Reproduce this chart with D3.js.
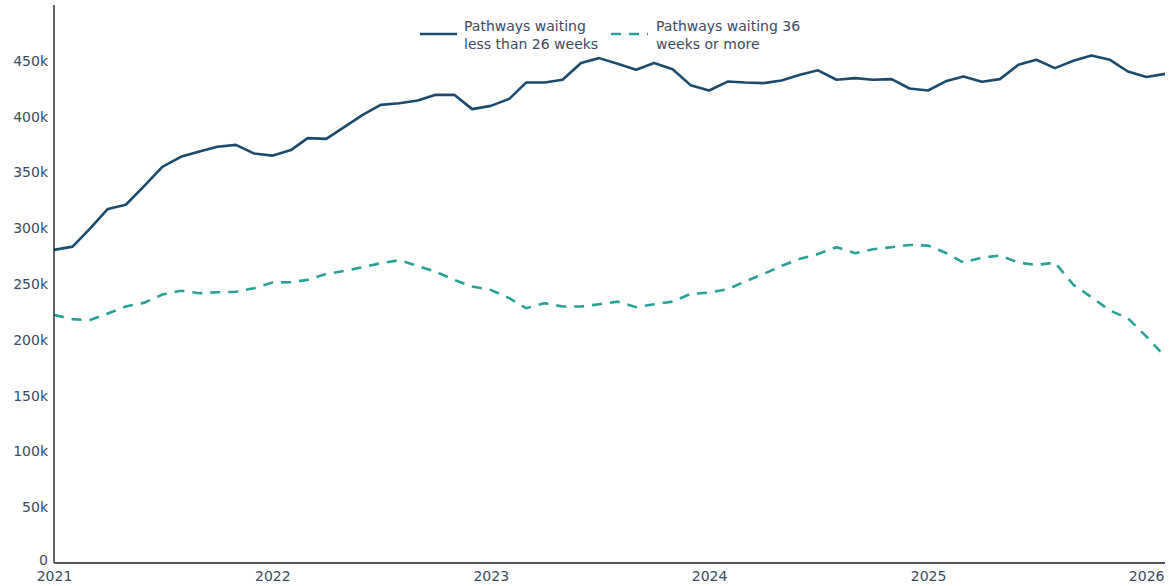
<!DOCTYPE html>
<html><head><meta charset="utf-8">
<script src="https://cdn.jsdelivr.net/npm/d3@7"></script>
<style>body{margin:0;background:#fff;}svg{display:block;font-family:"DejaVu Sans",Verdana,sans-serif;}</style>
</head><body>
<svg id="c" width="1169" height="586"></svg>
<script>
const startMonth = "2021-01";
const under26 = [280.6,283.5,299,317.3,321,338,355,364,368.7,373,374.7,367,365,370,380.7,380,390.5,401.6,410.5,412,414.4,419.5,419.5,406.7,409.6,415.9,430.5,430.5,433,448,452.4,447.3,442,448,442.5,428.2,423.4,431.4,430.5,430,432.3,437.4,441.5,433,434.5,433,433.6,425.2,423.4,432,436,431.2,433.6,446.4,450.9,443.4,450,454.8,450.9,440.4,435.4,438.3];
const over36 = [222.3,218.5,217.5,223.5,229.8,233.3,240.5,244,241.7,242.6,243,246.2,251.3,251.6,253.7,259,261.7,265,268.6,271.3,266.2,261,253.7,247.7,244.7,237.3,228.3,232.8,229.8,229.8,231.9,234.2,229.2,231.9,234.2,241.1,242.3,245.3,252.2,259,266.2,272.6,276.8,283,277.6,281.2,283,285,284.4,277.6,269.2,273.7,275.5,269.2,267.1,269.2,249.2,238.2,226.2,219.3,202.9,185];
const yTicks = [0,50,100,150,200,250,300,350,400,450];
const xTickYears = [2021,2022,2023,2024,2025,2026];
const seriesNames = [["Pathways waiting","less than 26 weeks"],["Pathways waiting 36","weeks or more"]];
const colors = ["#1b4a6f","#2aa198"];

const t0 = d3.timeParse("%Y-%m")(startMonth);
const dates = under26.map((_, i) => d3.timeMonth.offset(t0, i));

const svg = d3.select("#c");
const L = 54, R = 1165, T = 5, B = 563;
const x = d3.scaleTime().domain([dates[0], dates[dates.length-1]]).range([L, R]);
const y = d3.scaleLinear().domain([0, 500]).range([B, T]);
const textColor = "#3b4a5f";

// lines
const line = d3.line().x((d,i)=>x(dates[i])).y(d=>y(d));
svg.append("path").datum(over36).attr("d", line).attr("fill","none")
  .attr("stroke", colors[1]).attr("stroke-width",2.6).attr("stroke-dasharray","10,8");
svg.append("path").datum(under26).attr("d", line).attr("fill","none")
  .attr("stroke", colors[0]).attr("stroke-width",2.6).attr("stroke-linejoin","round");

// y axis
const ya = svg.append("g").attr("transform",`translate(${L},0)`)
  .call(d3.axisLeft(y).tickValues(yTicks).tickSize(0).tickPadding(6).tickFormat(d => d===0 ? "0" : d + "k"));
ya.select(".domain").remove();
ya.selectAll("text").attr("fill", textColor).style("font-size","14px").style("font-family","DejaVu Sans, Verdana, sans-serif")
  .attr("dy", d => d===0 ? "0.1em" : "0.32em");
svg.append("line").attr("x1",L).attr("x2",L).attr("y1",T).attr("y2",B).attr("stroke","#111").attr("stroke-width",1.3);

// x axis
const xTickDates = xTickYears.map(yv => new Date(yv,0,1));
const xa = svg.append("g").attr("transform",`translate(0,${B})`)
  .call(d3.axisBottom(x).tickValues(xTickDates).tickSize(0).tickPadding(8).tickFormat(d3.timeFormat("%Y")));
xa.select(".domain").remove();
xa.selectAll("text").attr("fill", textColor).style("font-size","14px").style("font-family","DejaVu Sans, Verdana, sans-serif")
  .attr("text-anchor", (d,i) => i === xTickYears.length-1 ? "end" : "middle")
  .attr("dx", (d,i) => i === xTickYears.length-1 ? (R - 1 - x(d)) : 0);
svg.append("line").attr("x1",L).attr("x2",R).attr("y1",B).attr("y2",B).attr("stroke","#555").attr("stroke-width",2);

// legend
const lg = svg.append("g");
const legendPos = [[420,464],[611,656]];
seriesNames.forEach((nm, i) => {
  const [lx, tx] = legendPos[i];
  lg.append("line").attr("x1",lx).attr("x2",lx+37).attr("y1",34).attr("y2",34)
    .attr("stroke",colors[i]).attr("stroke-width",2.6)
    .attr("stroke-dasharray", i===1 ? "10,8" : null);
  nm.forEach((s, j) => {
    lg.append("text").attr("x",tx).attr("y",31 + j*18).text(s)
      .attr("fill",textColor).style("font-size","14px");
  });
});
</script>
</body></html>
